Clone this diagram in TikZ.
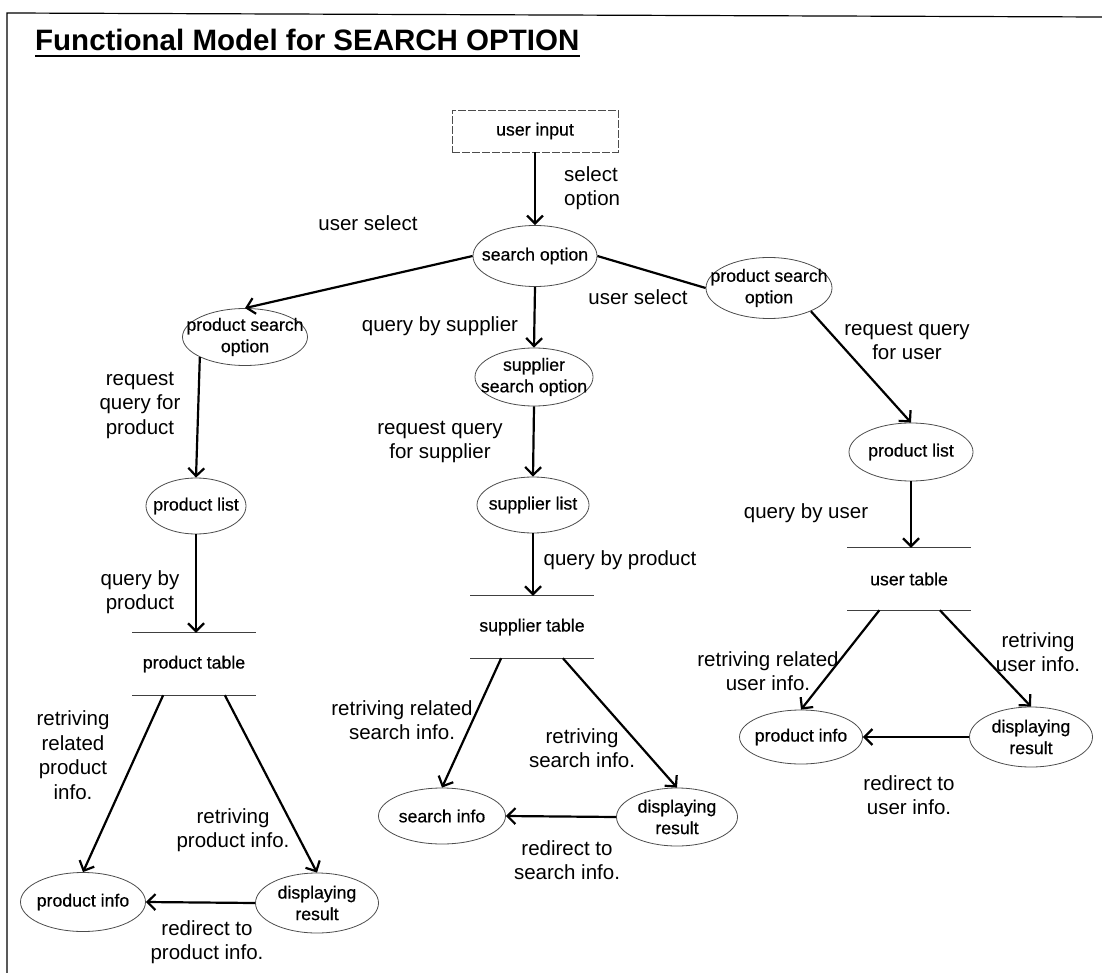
\documentclass[tikz,border=0pt]{standalone}
\usepackage{fontspec}
\setmainfont{Liberation Sans}
\newfontfamily\nodefont[FakeBold=0.5]{Liberation Sans}
\usetikzlibrary{shapes.geometric,arrows.meta,calc}
\begin{document}
\begin{tikzpicture}[x=1pt,y=-1pt,
  ell/.style={ellipse, draw=black!70, line width=0.8pt, inner sep=0pt},
  ntext/.style={font=\nodefont\fontsize{17.7}{21.5}\selectfont, align=center, inner sep=0pt},
  lab/.style={font=\fontsize{20.5}{24.5}\selectfont, align=center, inner sep=0pt},
  arr/.style={line width=2.2pt, -{Straight Barb[length=8pt,width=16pt]}},
  conn/.style={line width=2.2pt},
  tab/.style={minimum width=123pt, minimum height=62pt, inner sep=0pt, font=\nodefont\fontsize{17.7}{21.5}\selectfont},
  tline/.style={line width=0.9pt, draw=black!75},
]
\useasboundingbox (0,0) rectangle (1102,973);
% frame
\coordinate (fa) at (7,973);
\coordinate (fb) at (7,13);
\coordinate (fc) at (1102,17);
\draw[line width=1.2pt] (fa) -- (fb) -- (fc);
% title
\node[font=\bfseries\fontsize{29.5}{34}\selectfont, inner sep=0pt, anchor=base west] (title) at (35,51) {Functional Model for SEARCH OPTION};
\draw[line width=2pt] ([yshift=-5pt]title.base west) -- ([yshift=-5pt]title.base east);

% nodes
\node[draw=black!70, line width=0.8pt, dash pattern=on 8pt off 2pt, minimum width=166pt, minimum height=42pt, inner sep=0pt, font=\nodefont\fontsize{17.7}{21.5}\selectfont] (uin) at (535,131) {user input};
\node[ell, minimum width=124pt, minimum height=61pt, label={[ntext]center:search option}] (so) at (535,256) {};
\node[ell, minimum width=125pt, minimum height=57pt, label={[ntext]center:{product search\\option}}] (lps) at (245,337) {};
\node[ell, minimum width=126pt, minimum height=61pt, label={[ntext]center:{product search\\option}}] (rps) at (769,288) {};
\node[ell, minimum width=118pt, minimum height=58pt, label={[ntext]center:{supplier\\search option}}] (sso) at (534,377) {};
\node[ell, minimum width=100pt, minimum height=56pt, label={[ntext]center:product list}] (ppl) at (196,506) {};
\node[ell, minimum width=112pt, minimum height=56pt, label={[ntext]center:supplier list}] (spl) at (533,505) {};
\node[ell, minimum width=124pt, minimum height=58pt, label={[ntext]center:product list}] (rpl) at (911,452) {};
\node[tab] (ptab) at (194,664) {product table};
\node[tab] (stab) at (532,627) {supplier table};
\node[tab] (utab) at (909,579) {user table};
\node[ell, minimum width=125pt, minimum height=59pt, label={[ntext]center:product info}] (ppi) at (83,902) {};
\node[ell, minimum width=123pt, minimum height=60pt, label={[ntext]center:{displaying\\result}}] (pdr) at (317,903) {};
\node[ell, minimum width=127pt, minimum height=56pt, label={[ntext]center:search info}] (ssi) at (442,816) {};
\node[ell, minimum width=121pt, minimum height=58pt, label={[ntext]center:{displaying\\result}}] (sdr) at (677,817) {};
\node[ell, minimum width=123pt, minimum height=54pt, label={[ntext]center:product info}] (upi) at (801,737) {};
\node[ell, minimum width=123pt, minimum height=60pt, label={[ntext]center:{displaying\\result}}] (udr) at (1031,737) {};

% table lines
\foreach \t in {ptab,stab,utab}{
  \draw[tline] (\t.north west) -- (\t.north east);
  \draw[tline] (\t.south west) -- (\t.south east);
}

% connectors
\draw[arr] (uin.south) -- (so.north);
\draw[arr] (so.west) -- (lps.north);
\draw[conn] (so.east) -- (rps.west);
\draw[arr] (so.south) -- (sso.north);
\draw[arr] (lps.-156) -- (ppl.north);
\draw[arr] (rps.-29) -- (rpl.north);
\draw[arr] (sso.south) -- (spl.north);
\draw[arr] (ppl.south) -- (ppl.south |- ptab.north);
\draw[arr] (spl.south) -- (spl.south |- stab.north);
\draw[arr] (rpl.south) -- (rpl.south |- utab.north);
\draw[arr] ($(ptab.south west)!0.25!(ptab.south east)$) -- (ppi.north);
\draw[arr] ($(ptab.south west)!0.75!(ptab.south east)$) -- (pdr.north);
\draw[arr] ($(stab.south west)!0.25!(stab.south east)$) -- (ssi.north);
\draw[arr] ($(stab.south west)!0.75!(stab.south east)$) -- (sdr.north);
\draw[arr] ($(utab.south west)!0.26!(utab.south east)$) -- (upi.north);
\draw[arr] ($(utab.south west)!0.75!(utab.south east)$) -- (udr.north);
\draw[arr] (pdr.west) -- (ppi.east);
\draw[arr] (sdr.west) -- (ssi.east);
\draw[arr] (udr.west) -- (upi.east);

% labels
\node[lab, align=left, anchor=west] (l1) at (564,188) {select\\option};
\node[lab] (l2) at (368,223) {user select};
\node[lab] (l3) at (638,297) {user select};
\node[lab] (l4) at (440,326) {query by supplier};
\node[lab] (l5) at (140,405) {request\\query for\\product};
\node[lab] (l6) at (440,442) {request query\\for supplier};
\node[lab] (l7) at (907,341) {request query\\for user};
\node[lab] (l8) at (140,592) {query by\\product};
\node[lab] (l9) at (620,560) {query by product};
\node[lab] (l10) at (806,513) {query by user};
\node[lab] (l11) at (73,755) {retriving\\related\\product\\info.};
\node[lab] (l12) at (233,830) {retriving\\product info.};
\node[lab] (l13) at (207,942) {redirect to\\product info.};
\node[lab] (l14) at (402,720) {retriving related\\search info.};
\node[lab] (l15) at (582,748) {retriving\\search info.};
\node[lab] (l16) at (567,860) {redirect to\\search info.};
\node[lab] (l17) at (768,671) {retriving related\\user info.};
\node[lab] (l18) at (1038,652) {retriving\\user info.};
\node[lab] (l19) at (909,795) {redirect to\\user info.};
\end{tikzpicture}
\end{document}
